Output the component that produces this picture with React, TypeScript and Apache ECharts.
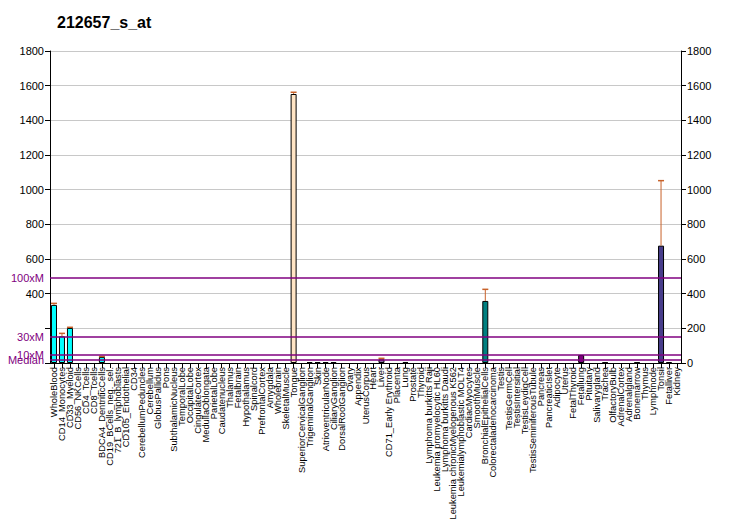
import React, { useEffect, useRef } from "react";
import * as echarts from "echarts";

const title = "212657_s_at";

const categories = [
  "WholeBlood", "CD14_Monocytes", "CD33_Myeloid", "CD56_NKCells", "CD4_Tcells", "CD8_Tcells",
  "BDCA4_DentriticCells", "CD19_BCells_neg._sel.", "721_B_lymphoblasts", "CD105_Endothelial", "CD34",
  "CerebellumPeduncles", "Cerebellum", "GlobusPallidus", "Pons", "SubthalamicNucleus", "TemporalLobe",
  "OccipitalLobe", "CingulateCortex", "MedullaOblongata", "ParietalLobe", "Caudatenucleus", "Thalamus",
  "Fetalbrain", "Hypothalamus", "Spinalcord", "PrefrontalCortex", "Amygdala", "Wholebrain",
  "SkeletalMuscle", "Tongue", "SuperiorCervicalGanglion", "TrigeminalGanglion", "Skin",
  "AtrioventricularNode", "CiliaryGanglion", "DorsalRootGanglion", "Ovary", "Appendix", "UterusCorpus",
  "Heart", "Liver", "CD71_Early Erythroid", "Placenta", "Lung", "Prostate", "Thyroid",
  "Lymphoma burkitts Raji", "Leukemia promyelocytic HL60", "Lymphoma burkitts Daudi",
  "Leukemia chronicMyelogenous K562", "Leukemialymphoblastic MOLT4", "CardiacMyocytes", "SmoothMuscle",
  "BronchialEpithelialCells", "Colorectaladenocarcinoma", "Testis", "TestisGermCell", "TestisIntersitial",
  "TestisLeydigCell", "TestisSeminiferousTubule", "Pancreas", "PancreaticIslet", "Adipocyte", "Uterus",
  "FetalThyroid", "Fetallung", "Pituitary", "Salivarygland", "Trachea", "OlfactoryBulb", "AdrenalCortex",
  "Adrenalgland", "Bonemarrow", "Thymus", "Lymphnode", "Tonsil", "Fetalliver", "Kidney",
];

const values = [
  335, 154, 202, 0, 0, 0, 35, 0, 0, 0, 0,
  0, 0, 0, 0, 0, 0, 0, 0, 0, 0, 0, 0,
  0, 0, 0, 0, 0, 0, 0, 1552, 0, 5, 5,
  5, 5, 0, 0, 0, 0, 0, 21, 0, 0, 6, 0, 0,
  0, 0, 0, 0, 0, 0, 0, 358, 0, 0, 0, 0,
  0, 0, 0, 0, 0, 0, 0, 46, 0, 0, 4, 0, 0,
  0, 4, 0, 0, 677, 5, 0,
];

const errorTops: (number | null)[] = [
  344, 171, 206, null, null, null, 38, null, null, null, null,
  null, null, null, null, null, null, null, null, null, null, null, null,
  null, null, null, null, null, null, null, 1562, null, null, null,
  null, null, null, null, null, null, null, 27, null, null, null, null, null,
  null, null, null, null, null, null, null, 425, null, null, null, null,
  null, null, null, null, null, null, null, null, null, null, null, null, null,
  null, null, null, null, 1052, null, null,
];

const barColors: Record<number, string> = {
  0: "#00FFFF", 1: "#00FFFF", 2: "#00FFFF", 6: "#00FFFF",
  30: "#FFE4C4",
  32: "#B0407A", 33: "#400040", 34: "#B0407A", 35: "#B0407A",
  41: "#8A6AA0", 44: "#400040",
  54: "#008080",
  66: "#800080", 69: "#500050", 73: "#500050",
  76: "#483D8B", 77: "#500050",
};

const refLines = [
  { name: "100xM", value: 490 },
  { name: "30xM", value: 150 },
  { name: "10xM", value: 49 },
  { name: "Median", value: 17 },
];

const yTicks = { min: 0, max: 1800, interval: 200 };

export default function App() {
  const ref = useRef<HTMLDivElement>(null);
  useEffect(() => {
    if (!ref.current) return;
    document.body.style.margin = "0";
    const chart = echarts.init(ref.current, undefined, { renderer: "svg" });
    const font = "Liberation Sans, Arial, sans-serif";
    const errData = errorTops
      .map((e, i) => (e == null ? null : [i, values[i], e]))
      .filter((d) => d != null);
    chart.setOption({
      animation: false,
      title: {
        text: title,
        left: 52,
        top: 9,
        textStyle: { fontSize: 16, fontWeight: "bold", color: "#000", fontFamily: font },
      },
      grid: { left: 50, right: 51, top: 51, bottom: 167, outerBoundsMode: "none", containLabel: false },
      xAxis: {
        type: "category",
        data: categories,
        axisLine: { lineStyle: { color: "#000", width: 1 } },
        axisTick: { show: true, interval: 0, alignWithLabel: true, length: 5, lineStyle: { color: "#000" } },
        axisLabel: {
          interval: 0,
          rotate: 90,
          fontSize: 9.3,
          margin: 4,
          color: "#000",
          fontFamily: font,
        },
      },
      yAxis: [
        {
          type: "value",
          min: yTicks.min,
          max: yTicks.max,
          interval: yTicks.interval,
          axisLine: { show: true, lineStyle: { color: "#000" } },
          axisTick: { show: true, length: 5, lineStyle: { color: "#000" } },
          axisLabel: {
            fontSize: 11,
            color: "#000",
            fontFamily: font,
            margin: 6,
            formatter: (v: number) => (v < 400 ? "" : String(v)),
          },
          splitLine: { show: true, lineStyle: { color: "#C8C8C8", width: 1 } },
        },
        {
          type: "value",
          position: "right",
          min: yTicks.min,
          max: yTicks.max,
          interval: yTicks.interval,
          axisLine: { show: true, lineStyle: { color: "#000" } },
          axisTick: { show: true, length: 5, lineStyle: { color: "#000" } },
          axisLabel: { fontSize: 11, color: "#000", fontFamily: font, margin: 6, formatter: (v: number) => String(v) },
          splitLine: { show: false },
        },
      ],
      series: [
        {
          type: "bar",
          yAxisIndex: 0,
          barWidth: 6,
          data: values.map((v, i) => ({
            value: v,
            itemStyle: {
              color: barColors[i] || "#808080",
              borderColor: "#000",
              borderWidth: v > 0 ? 1 : 0,
            },
          })),
          markLine: {
            silent: true,
            symbol: "none",
            animation: false,
            lineStyle: { color: "#800080", width: 1.5, type: "solid" },
            label: {
              show: true,
              position: "start",
              distance: 6,
              color: "#800080",
              fontSize: 11,
              fontFamily: font,
              formatter: (p: any) => p.name,
            },
            data: refLines.map((r) => ({ name: r.name, yAxis: r.value })),
          },
          z: 2,
        },
        {
          type: "custom",
          yAxisIndex: 0,
          data: errData,
          z: 3,
          renderItem: (params: any, api: any) => {
            const x = api.value(0);
            const lo = api.coord([x, api.value(1)]);
            const hi = api.coord([x, api.value(2)]);
            const stroke = "#C8622A";
            return {
              type: "group",
              children: [
                { type: "line", shape: { x1: lo[0], y1: lo[1], x2: hi[0], y2: hi[1] }, style: { stroke, lineWidth: 1 } },
                { type: "line", shape: { x1: hi[0] - 3, y1: hi[1], x2: hi[0] + 3, y2: hi[1] }, style: { stroke, lineWidth: 1.5 } },
              ],
            };
          },
        },
      ],
    });
    return () => chart.dispose();
  }, []);
  return <div ref={ref} style={{ width: 732, height: 530 }} />;
}
